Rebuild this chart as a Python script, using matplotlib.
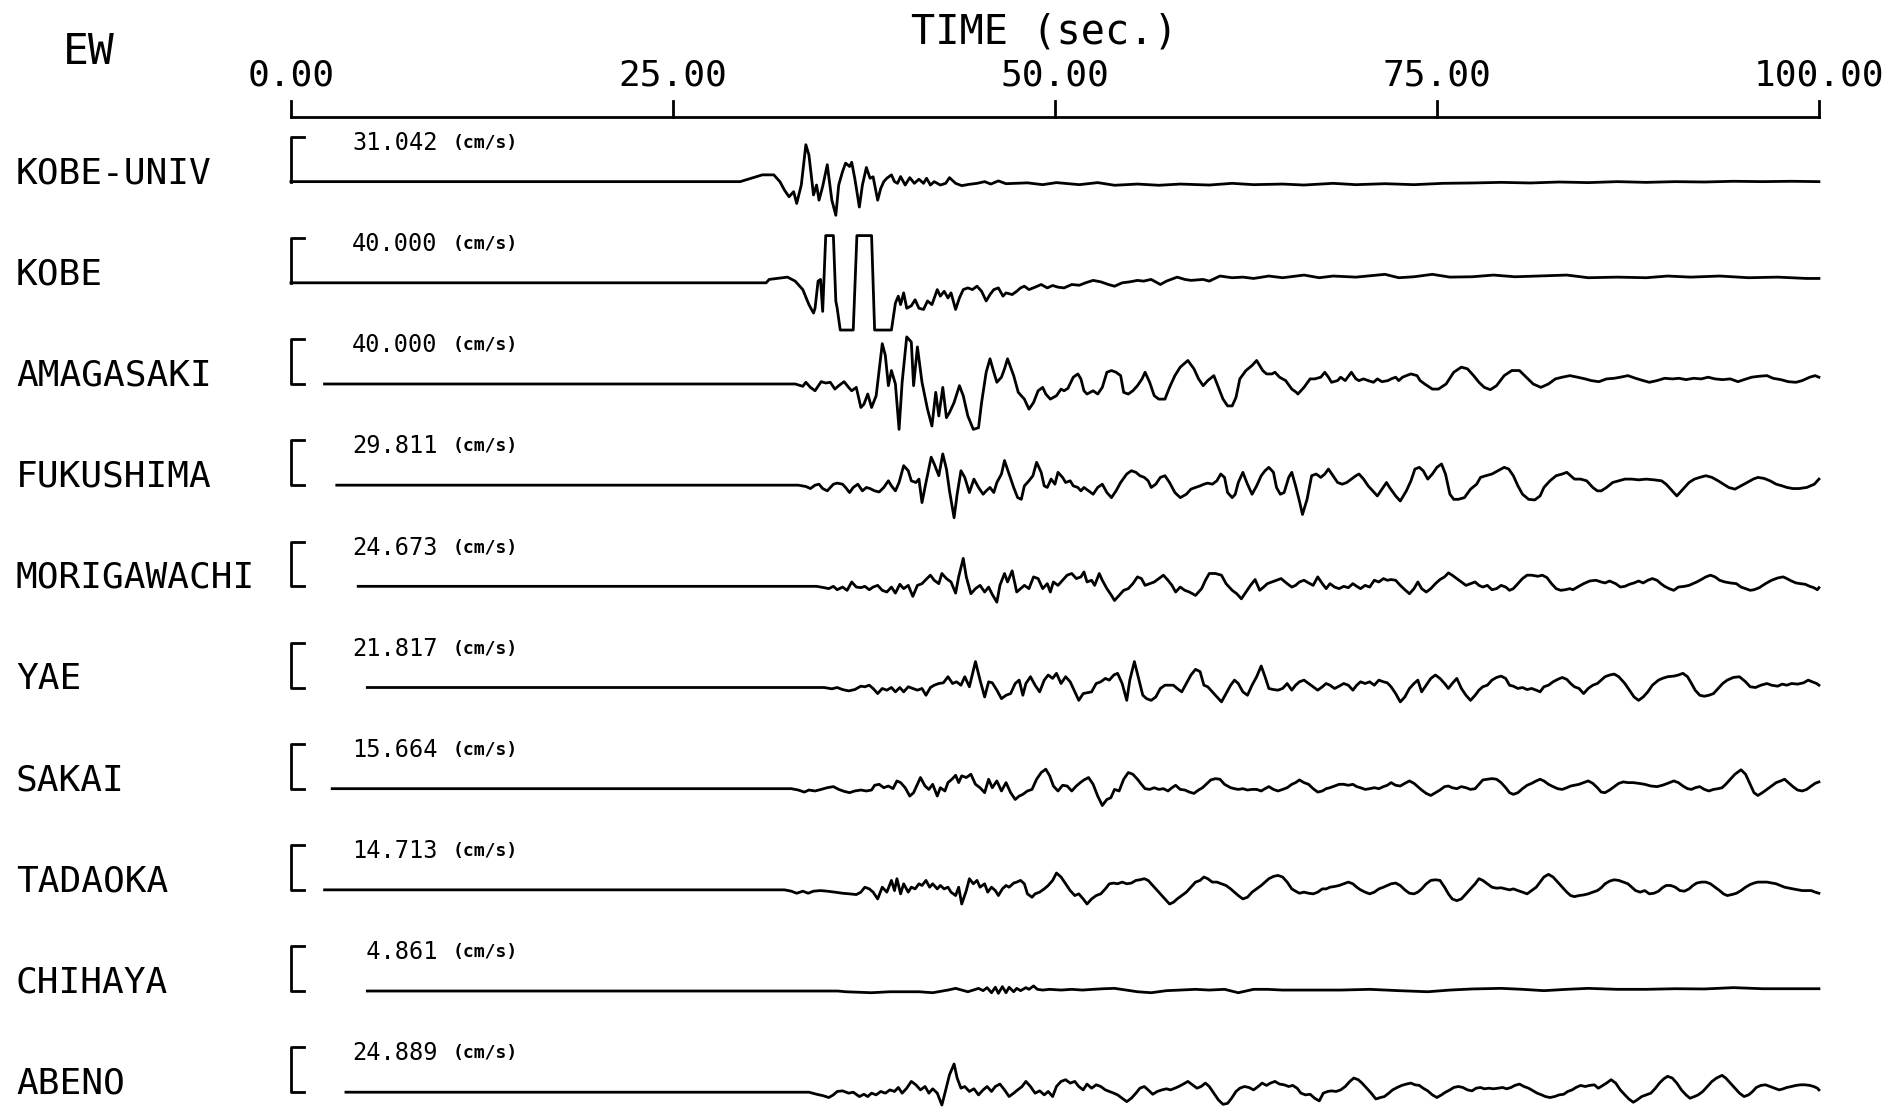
import matplotlib.pyplot as plt

# EW velocity records, 1995 Hyogo-ken Nanbu. time in sec, amplitude (relative units)
stations = ['KOBE-UNIV', 'KOBE', 'AMAGASAKI', 'FUKUSHIMA', 'MORIGAWACHI',
            'YAE', 'SAKAI', 'TADAOKA', 'CHIHAYA', 'ABENO']
peak_vel = [31.042, 40.000, 40.000, 29.811, 24.673, 21.817, 15.664, 14.713, 4.861, 24.889]
trace_start = [0.0, 0.0, 2.2, 3.0, 4.4, 5.0, 2.7, 2.2, 5.0, 3.6]
time_ticks = [0, 25, 50, 75, 100]

kobe_univ = [(29.4,0),(30.85,5.6),(31.6,5.6),(32.0,0),(32.3,-7),(32.6,-12.5),(32.9,-8.3),(33.1,-18),(33.4,-2.8),
    (33.7,30.5),(33.9,22),(34.2,-11),(34.4,-2.8),(34.56,-15.3),(34.8,-4),(35.1,14),(35.4,-15.3),(35.66,-27.8),
    (35.85,-2.8),(36.1,8.3),(36.3,15.3),(36.56,12.5),(36.7,16),(36.9,2.8),(37.2,-21),(37.4,-2.8),(37.66,11.7),
    (37.9,2.8),(38.1,4),(38.4,-15.3),(38.6,-5.6),(38.8,0),(39.0,2.8),(39.3,5.6),(39.5,0),(39.7,-1.4),(39.9,4.2),
    (40.2,-2.8),(40.5,3.3),(40.8,-1.4),(41.1,2),(41.4,-1.4),(41.6,2.8),(41.85,-2.8),(42.1,0),(42.5,-2.8),
    (42.85,-1.4),(43.1,3.3),(43.5,-1.4),(43.9,-3.3),(44.4,-2.2),(44.9,-1.4),(45.4,0),(45.8,-2),(46.3,0.6),
    (46.8,-1.7),(48.2,-1),(49.2,-2.5),(50.1,-0.8),(51.6,-2.5),(52.8,-0.8),(53.9,-3),(55.4,-2),(56.8,-3),(58.2,-2),
    (60.1,-2.8),(61.6,-1.4),(63.0,-2.5),(64.9,-2),(66.3,-2.8),(68.2,-1.4),(69.7,-2.5),(71.6,-1.7),(73.5,-2.5),
    (75.4,-1.4),(77.3,-1.1),(79.2,-0.6),(81.1,-1.1),(83.0,-0.3),(84.9,-0.8),(86.8,0),(88.7,-0.6),(90.6,0),
    (92.5,-0.3),(94.4,0.3),(96.3,0),(98.2,0.3),(100.0,0)]

kobe = [(31.1,0),(31.3,2.8),(32.5,4.7),(33.0,1.4),(33.5,-5.6),(33.9,-18),(34.2,-25),(34.3,-21),(34.5,1.4),
    (34.66,2.8),(34.8,-23.6),(35.0,39),(35.5,39),(35.66,-15),(35.75,-21),(35.95,-39),(36.8,-39),(37.04,39),
    (38.0,39),(38.2,-39),(39.3,-39),(39.56,-16.7),(39.75,-11),(39.9,-18),(40.1,-8.3),(40.3,-21),(40.6,-19),
    (40.85,-14),(41.1,-21),(41.4,-22),(41.66,-15),(41.95,-18),(42.3,-5.6),(42.5,-11),(42.75,-7),(43.0,-12.5),
    (43.2,-8.3),(43.5,-22),(43.75,-12.5),(44.0,-5.6),(44.3,-4.2),(44.6,-5.6),(44.9,-2.8),(45.2,-7),(45.5,-15),
    (45.75,-9.7),(46.0,-5.6),(46.3,-4.2),(46.6,-11),(46.8,-8.3),(47.2,-9.7),(47.5,-7),(47.75,-4.2),(48.0,-2.8),
    (48.3,-5.6),(48.7,-3.6),(49.1,-1.4),(49.5,-4.2),(49.85,-2.2),(50.2,-3.6),(50.6,-4.2),(51.1,-1.4),(51.6,-2),
    (52.0,0),(52.5,2),(53.0,0.8),(53.5,-1.4),(53.9,-2.8),(54.4,0),(54.9,0.8),(55.4,2),(55.8,1.4),(56.3,2.8),
    (56.9,-1.4),(57.3,1.4),(58.0,4.7),(58.5,2.8),(58.9,2),(59.7,2.8),(60.1,1.4),(60.8,5.6),(61.6,4.2),(62.3,4.7),
    (63.0,3.6),(64.0,5.6),(64.9,4.2),(65.8,5.6),(66.3,6.4),(67.3,4.2),(68.2,5.6),(69.7,4.7),(71.6,7),(72.5,4.2),
    (73.5,5),(74.7,7),(75.85,4.7),(77.3,5),(78.7,6.4),(80.1,5),(81.6,5.6),(83.5,6.4),(84.9,4.2),(86.8,4.7),
    (88.7,4.2),(90.1,5.6),(91.6,4.7),(93.5,5.6),(95.4,4.2),(97.3,4.7),(99.2,3.6),(100.0,3.6)]

amagasaki = [(33.0,0),(33.5,-1.9),(33.7,1.4),(34.0,-2.8),(34.3,-5.6),(34.7,1.9),(35.0,0.8),(35.3,1.4),(35.6,-4.2),
    (35.85,-1.4),(36.2,1.9),(36.5,-2.8),(36.7,-5.6),(37.0,-2.8),(37.3,-19.4),(37.5,-16.7),(37.75,-8.3),(38.0,-19.4),
    (38.3,-9.7),(38.7,33.3),(38.9,23.6),(39.1,-1.4),(39.3,11.1),(39.56,0),(39.8,-37.5),(40.0,1.4),(40.3,38.9),
    (40.6,34.7),(40.75,-1.4),(41.0,30.6),(41.3,1.4),(41.66,-20.8),(41.95,-34.7),(42.2,-6.9),(42.4,-26.4),
    (42.66,-2.8),(42.9,-27.8),(43.1,-23.6),(43.4,-15.3),(43.75,-1.4),(44.0,-9.7),(44.3,-26.4),(44.66,-37.5),
    (45.0,-36.1),(45.2,-15.3),(45.5,9.7),(45.75,20.8),(46.0,9.7),(46.2,1.4),(46.5,5.6),(46.7,12.5),(46.9,20.8),
    (47.3,6.9),(47.6,-6.9),(48.0,-12.5),(48.3,-20.8),(48.6,-15.3),(48.9,-5.6),(49.2,-2.8),(49.4,-8.3),(49.7,-12.5),
    (49.9,-11.1),(50.1,-9.7),(50.4,-4.2),(50.6,-5.6),(50.85,-3.6),(51.2,5.6),(51.5,8.3),(51.7,4.2),(51.9,-5.6),
    (52.1,-8.3),(52.3,-6.9),(52.5,-5.6),(52.8,-8.3),(53.1,-2.8),(53.4,9.7),(53.7,11.1),(54.0,9.7),(54.3,6.9),
    (54.5,-6.9),(54.8,-8.3),(55.1,-5.6),(55.4,-1.4),(55.7,4.2),(55.9,9.7),(56.2,1.4),(56.5,-9.7),(56.8,-12.5),
    (57.2,-12.5),(57.5,-2.8),(57.85,6.9),(58.2,13.9),(58.7,19.4),(59.1,12.5),(59.4,4.2),(59.7,-1.4),(60.0,2.8),
    (60.4,6.9),(60.7,-2.8),(61.0,-12.5),(61.3,-18.1),(61.6,-18.1),(61.85,-11.1),(62.1,4.2),(62.5,11.1),(62.9,15.3),
    (63.2,19.4),(63.6,11.1),(63.85,8.3),(64.2,8.3),(64.4,9.7),(64.7,5.6),(65.1,2.8),(65.5,-4.2),(65.8,-6.9),
    (65.9,-8.3),(66.3,-2.8),(66.7,4.2),(67.0,4.2),(67.4,5.6),(67.66,9.7),(67.9,5.6),(68.1,1.4),(68.5,2.8),
    (68.7,5.6),(69.0,2.8),(69.4,9.7),(69.7,4.2),(69.9,2.8),(70.2,4.2),(70.5,2.8),(70.85,1.4),(71.1,4.2),(71.4,1.9),
    (71.8,2.8),(72.0,4.2),(72.3,5.6),(72.5,2.8),(72.75,5.6),(73.0,6.9),(73.3,8.3),(73.7,6.9),(73.9,2.8),(74.2,0),
    (74.7,-4.2),(75.1,-4.2),(75.6,0),(76.1,9.7),(76.6,13.9),(77.0,12.5),(77.4,6.9),(77.75,1.4),(78.1,-2.8),
    (78.5,-4.7),(78.9,-1.4),(79.4,6.9),(79.9,11.1),(80.4,11.1),(80.85,5.6),(81.3,0),(81.8,-2.8),(82.3,0),
    (82.75,4.2),(83.2,5.6),(83.7,6.9),(84.2,5.6),(84.7,4.2),(85.1,2.8),(85.6,1.9),(86.1,4.2),(86.6,4.7),(87.0,5.6),
    (87.5,6.9),(88.0,4.7),(88.5,2.8),(88.9,1.4),(89.4,2.8),(89.9,4.7),(90.4,4.2),(90.85,4.7),(91.3,3.6),(91.8,4.7),
    (92.3,4.2),(92.75,5.6),(93.2,4.2),(93.7,3.6),(94.2,4.2),(94.7,1.9),(95.1,3.6),(95.6,5.6),(96.1,6.4),(96.6,6.9),
    (97.0,4.7),(97.5,3.6),(98.0,1.9),(98.5,1.4),(98.9,2.8),(99.4,5.6),(99.75,6.9),(100.0,5.6)]

fukushima = [(33.2,0),(33.7,-1.1),(34.0,-2.8),(34.3,0),(34.56,0.8),(34.8,-2.8),(35.1,-4.7),(35.5,0.8),(35.75,1.7),
    (36.1,0.8),(36.3,-1.9),(36.56,-6.1),(36.8,-1.9),(37.1,0.8),(37.4,-4.7),(37.66,-1.9),(37.9,-2.8),(38.2,-4.7),
    (38.5,-5.6),(38.8,-1.9),(39.1,3.6),(39.3,-0.6),(39.56,-4.7),(39.8,2.2),(40.1,16.1),(40.4,11.9),(40.6,3.6),
    (40.9,2.2),(41.1,5),(41.3,-14.4),(41.56,2.2),(41.9,23.1),(42.1,17.5),(42.4,7.8),(42.66,25.8),(42.9,13.3),
    (43.1,-4.7),(43.4,-26.9),(43.6,-7.5),(43.85,11.9),(44.1,6.4),(44.4,-6.1),(44.7,5),(45.0,-1.9),(45.3,-7.5),
    (45.5,-4.7),(45.75,-1.9),(46.0,-6.1),(46.2,2.2),(46.5,9.2),(46.7,20.3),(47.0,9.2),(47.3,-1.9),(47.56,-10.3),
    (47.8,-11.7),(48.0,-0.6),(48.3,3.6),(48.56,7.8),(48.8,18.9),(49.1,10.6),(49.3,-0.6),(49.5,-1.9),(49.75,5),
    (50.0,0.8),(50.2,10.6),(50.5,6.4),(50.7,2.2),(51.0,3.6),(51.2,-0.6),(51.5,-1.9),(51.7,-4.7),(51.9,-1.9),
    (52.2,-4.7),(52.5,-7.5),(52.8,-1.9),(53.1,0.8),(53.4,-6.1),(53.7,-10.3),(54.0,-4.7),(54.3,2.2),(54.7,9.2),
    (55.0,11.9),(55.3,10.6),(55.56,7.8),(55.85,6.4),(56.1,3.6),(56.3,-1.9),(56.6,0.8),(56.9,6.4),(57.2,7.8),
    (57.5,2.2),(57.85,-6.1),(58.2,-10.3),(58.6,-7.5),(58.9,-3.3),(59.2,-1.9),(59.5,-0.6),(59.75,0.8),(60.0,1.7),
    (60.3,0.8),(60.6,3.6),(60.85,9.2),(61.1,6.4),(61.3,-6.1),(61.6,-10.3),(61.8,-7.5),(62.0,2.2),(62.3,10.6),
    (62.6,0.8),(62.9,-7.5),(63.2,-0.6),(63.5,7.8),(63.75,11.9),(64.0,14.7),(64.3,10.6),(64.5,-1.9),(64.75,-7.5),
    (65.0,-6.1),(65.3,6.4),(65.5,10.6),(65.75,-0.6),(66.0,-13.1),(66.2,-24.2),(66.5,-11.7),(66.8,7.8),(67.1,9.2),
    (67.4,6.4),(67.66,9.2),(67.9,13.3),(68.2,7.8),(68.5,2.2),(68.8,0.8),(69.1,2.2),(69.4,5),(69.7,7.8),(69.9,9.2),
    (70.2,5),(70.5,-0.6),(70.8,-4.7),(71.1,-8.9),(71.4,-3.3),(71.7,2.2),(71.9,-1.9),(72.3,-8.9),(72.6,-13.1),
    (73.0,-4.7),(73.3,3.6),(73.56,13.3),(73.85,14.7),(74.1,11.9),(74.4,5),(74.7,9.2),(75.0,14.7),(75.3,17.5),
    (75.56,9.2),(75.85,-7.5),(76.1,-11.7),(76.4,-11.7),(76.8,-10.3),(77.2,-3.3),(77.6,0.8),(77.85,6.4),(78.2,7.8),
    (78.6,9.2),(79.0,11.9),(79.4,14.7),(79.7,13.3),(80.0,7.8),(80.3,-0.6),(80.6,-7.5),(81.0,-11.7),(81.4,-12.2),
    (81.75,-8.9),(82.0,-1.9),(82.4,3.6),(82.8,7.8),(83.2,9.2),(83.5,10.6),(83.75,7.8),(84.0,5),(84.4,5),(84.8,3.6),
    (85.2,-1.9),(85.5,-4.7),(85.75,-4.7),(86.1,-1.9),(86.5,2.2),(86.9,3.6),(87.3,5),(87.75,5),(88.2,4.4),(88.7,5),
    (89.2,4.4),(89.7,3.6),(90.0,0.8),(90.4,-4.7),(90.7,-8.9),(91.1,-3.3),(91.5,2.2),(91.85,5),(92.2,6.4),(92.6,7.8),
    (93.0,6.4),(93.4,3.6),(93.75,0.8),(94.1,-1.9),(94.5,-3.3),(94.9,-0.6),(95.3,2.2),(95.7,5),(96.0,6.4),(96.4,5.6),
    (96.8,3.6),(97.2,0.8),(97.6,-0.6),(97.9,-1.9),(98.3,-2.8),(98.7,-2.8),(99.2,-1.9),(99.7,0.8),(100.0,5)]

morigawachi = [(34.4,0),(34.9,-1.1),(35.2,-1.9),(35.5,0),(35.75,-2.8),(36.1,-0.6),(36.4,-3.3),(36.7,3.6),(37.0,-0.6),
    (37.3,-1.1),(37.56,0),(37.85,-2.8),(38.1,-0.6),(38.4,0.8),(38.7,-3.3),(39.0,-4.7),(39.3,-0.6),(39.56,-5.6),
    (39.85,1.7),(40.1,-1.9),(40.4,0.8),(40.7,-8.3),(41.0,0.8),(41.3,2.2),(41.56,5.6),(41.85,9.2),(42.1,5),(42.4,2.2),
    (42.6,10.6),(42.9,6.4),(43.2,3.6),(43.5,-5.6),(43.7,7.8),(44.0,23.1),(44.2,7.8),(44.5,-6.1),(44.8,-1.9),
    (45.1,0.8),(45.4,-4.7),(45.66,-0.6),(45.9,-6.7),(46.2,-13.1),(46.4,0.8),(46.7,10.6),(46.9,3.6),(47.2,12.8),
    (47.5,-4.7),(47.75,-1.9),(48.0,0.8),(48.3,-1.9),(48.6,7.8),(48.9,6.4),(49.2,-1.9),(49.5,2.2),(49.7,-4.7),
    (49.9,3.6),(50.2,0.8),(50.5,5),(50.8,9.2),(51.1,10.6),(51.4,6.4),(51.7,7.8),(51.9,11.9),(52.1,3.6),(52.4,5),
    (52.6,0.8),(52.9,10.6),(53.1,5),(53.4,-1.9),(53.7,-7.5),(53.9,-11.7),(54.2,-7.5),(54.5,-3.3),(54.8,-1.9),
    (55.1,2.2),(55.4,7.8),(55.66,6.4),(55.9,0.8),(56.2,2.2),(56.5,3.6),(56.8,6.4),(57.1,9.2),(57.4,5),(57.66,0.8),
    (57.9,-4.7),(58.2,-0.6),(58.5,-3.3),(58.8,-4.7),(59.2,-7.5),(59.6,-1.9),(59.85,5),(60.1,10.6),(60.5,10.6),
    (60.9,9.2),(61.2,2.2),(61.6,-3.3),(61.9,-6.1),(62.2,-10.3),(62.5,-4.7),(62.8,0.8),(63.1,5.6),(63.4,-3.3),
    (63.66,-0.6),(63.9,2.2),(64.2,3.6),(64.5,5),(64.8,6.4),(65.2,2.2),(65.5,-0.6),(65.75,0.8),(66.0,3.6),(66.3,5),
    (66.6,2.8),(66.9,0.8),(67.2,7.8),(67.5,2.2),(67.75,-1.9),(68.0,2.2),(68.3,-0.6),(68.6,-1.9),(68.9,0),(69.2,-1.1),
    (69.5,2.2),(69.75,0),(70.0,-1.9),(70.3,0.8),(70.6,-0.6),(70.9,5),(71.2,3.6),(71.5,6.4),(71.75,5),(72.0,5.6),
    (72.3,5),(72.6,0.8),(72.9,-2.8),(73.2,-6.1),(73.5,-1.9),(73.75,3.6),(74.0,-1.9),(74.3,-4.7),(74.6,-1.9),
    (74.9,2.2),(75.2,5.6),(75.5,7.8),(75.75,11.1),(76.0,9.2),(76.3,6.4),(76.6,3.6),(76.9,0.8),(77.2,2.2),(77.5,3.6),
    (77.75,0.8),(78.0,-0.6),(78.3,0.8),(78.6,-2.8),(78.9,-1.9),(79.2,0.8),(79.5,-0.6),(79.75,-3.3),(80.0,-1.9),
    (80.3,2.2),(80.6,6.4),(80.9,9.2),(81.2,9.2),(81.6,8.3),(81.9,9.2),(82.2,7.2),(82.5,2.2),(82.8,-1.9),(83.1,-3.3),
    (83.4,-2.8),(83.7,-1.9),(83.9,-2.8),(84.2,-0.6),(84.6,2.2),(85.0,4.4),(85.4,5),(85.75,3.6),(86.0,2.8),(86.3,4.4),
    (86.7,2.2),(87.0,-0.6),(87.3,0),(87.6,1.7),(87.9,2.8),(88.2,4.4),(88.5,2.8),(88.8,5),(89.1,6.4),(89.4,5),
    (89.66,2.2),(89.9,0),(90.2,-1.9),(90.5,-3.3),(90.8,-0.6),(91.2,0),(91.5,0.8),(91.75,2.2),(92.0,3.6),(92.3,5.6),
    (92.6,7.8),(92.9,9.2),(93.2,7.8),(93.5,5),(93.85,3.6),(94.2,2.8),(94.6,2.2),(94.9,-0.6),(95.2,-1.9),(95.5,-3.3),
    (95.75,-2.8),(96.1,-1.1),(96.5,2.2),(96.9,5),(97.3,6.9),(97.66,7.8),(97.9,6.4),(98.2,4.4),(98.5,2.8),(98.8,2.2),
    (99.1,1.7),(99.4,0),(99.66,-1.1),(99.9,-2.8),(100.0,-1.1)]

yae = [(34.9,0),(35.4,-1.1),(35.75,0),(36.1,-1.7),(36.5,-2.8),(36.9,-1.7),(37.3,1.1),(37.56,0.6),(37.85,1.9),
    (38.1,-0.8),(38.4,-5),(38.7,-0.8),(39.0,-2.2),(39.3,0),(39.56,-3.6),(39.85,0),(40.1,-3.6),(40.4,0.6),(40.7,-0.8),
    (41.0,-2.2),(41.3,-0.8),(41.56,-6.4),(41.85,0),(42.1,1.9),(42.4,3.3),(42.7,3.9),(43.0,8.9),(43.3,3.3),
    (43.56,4.7),(43.85,1.9),(44.1,8.9),(44.4,0.6),(44.8,21.4),(45.1,6.1),(45.4,-7.8),(45.66,4.7),(45.9,3.9),
    (46.2,-2.2),(46.5,-9.2),(46.8,-6.4),(47.1,-5),(47.4,3.3),(47.66,6.1),(47.9,-6.4),(48.1,3.3),(48.4,8.9),(48.7,1.9),
    (49.0,-3.6),(49.3,6.1),(49.56,10.3),(49.85,7.5),(50.1,11.7),(50.4,3.3),(50.7,8.9),(51.0,4.7),(51.3,-3.6),
    (51.56,-10.6),(51.85,-5),(52.1,-4.4),(52.4,-3.6),(52.7,3.3),(53.0,4.7),(53.3,7.5),(53.56,6.1),(53.85,10.3),
    (54.1,11.7),(54.4,3.3),(54.7,-10.6),(54.9,6.1),(55.2,21.4),(55.5,6.1),(55.75,-6.4),(56.0,-9.2),(56.3,-10.6),
    (56.6,-7.8),(56.9,-0.8),(57.2,1.9),(57.5,1.9),(57.75,1.9),(58.0,-0.8),(58.3,-3.6),(58.6,3.3),(58.9,10.3),
    (59.2,15),(59.5,13.1),(59.75,1.9),(60.0,0.6),(60.3,-3.6),(60.6,-7.8),(60.9,-11.9),(61.2,-5),(61.5,1.9),
    (61.75,6.1),(62.0,3.3),(62.3,-3.6),(62.6,-6.4),(62.9,1.9),(63.2,8.9),(63.5,17.8),(63.75,8.9),(64.0,-0.8),
    (64.3,-1.7),(64.6,-2.2),(64.9,-0.8),(65.2,3.3),(65.5,-2.2),(65.75,1.9),(66.0,4.7),(66.3,6.1),(66.6,3.3),
    (66.9,0.6),(67.2,-2.2),(67.5,0.6),(67.75,3.3),(68.0,1.9),(68.3,-0.8),(68.6,1.1),(68.9,3.3),(69.2,1.9),(69.5,-2.2),
    (69.75,1.9),(70.0,4.7),(70.3,3.3),(70.6,4.7),(70.9,1.9),(71.2,6.1),(71.5,4.7),(71.75,3.9),(72.0,0.6),(72.3,-5),
    (72.6,-11.9),(72.9,-7.8),(73.2,-0.8),(73.5,3.3),(73.75,6.1),(74.0,-3.6),(74.3,1.9),(74.6,7.5),(74.9,10.3),
    (75.2,7.5),(75.5,3.3),(75.75,-0.8),(76.0,3.3),(76.3,7.5),(76.6,-0.8),(76.9,-6.4),(77.2,-10.6),(77.5,-6.4),
    (77.75,-2.2),(78.0,0.6),(78.3,1.9),(78.6,6.1),(78.9,8.3),(79.2,9.4),(79.5,7.5),(79.75,1.9),(80.0,1.1),(80.3,-0.8),
    (80.6,0),(80.9,-1.7),(81.2,-0.8),(81.5,-2.2),(81.75,-3.6),(82.0,0.6),(82.3,1.9),(82.6,4.7),(82.9,6.7),(83.2,8.3),
    (83.5,6.7),(83.75,3.3),(84.0,0.6),(84.3,-0.8),(84.6,-5),(84.9,-0.8),(85.2,1.9),(85.5,3.3),(85.75,6.1),(86.0,8.9),
    (86.3,10.3),(86.6,11.1),(86.9,8.9),(87.3,3.3),(87.6,-2.2),(87.9,-7.8),(88.2,-10.6),(88.5,-7.8),(88.8,-3.6),
    (89.1,1.9),(89.5,6.1),(89.75,7.5),(90.1,8.9),(90.5,9.4),(90.8,10.3),(91.1,11.7),(91.4,8.9),(91.66,3.3),
    (91.9,-2.2),(92.2,-6.4),(92.5,-7.2),(92.8,-6.4),(93.1,-5),(93.4,-0.8),(93.7,3.3),(94.0,6.1),(94.4,8.3),
    (94.8,8.9),(95.2,4.7),(95.5,0.6),(95.85,0),(96.2,1.9),(96.6,3.3),(96.9,1.9),(97.3,1.1),(97.6,2.8),(97.9,1.9),
    (98.2,3.3),(98.6,2.8),(99.0,3.9),(99.3,6.1),(99.56,4.7),(99.85,3.3),(100.0,1.9)]

sakai = [(32.75,0),(33.2,-1.1),(33.6,-2.8),(33.9,-1.1),(34.3,-1.9),(34.7,-0.6),(35.1,0.8),(35.5,1.7),(35.85,-0.6),
    (36.2,-2.2),(36.56,-3.3),(36.9,-1.9),(37.3,-1.1),(37.66,-1.9),(38.0,-1.1),(38.2,2.8),(38.5,3.6),(38.8,0.8),
    (39.1,2.2),(39.4,0),(39.66,6.4),(39.9,5),(40.2,0.8),(40.5,-6.1),(40.75,-3.3),(41.0,3.6),(41.2,9.2),(41.5,2.2),
    (41.75,-0.6),(42.0,3.6),(42.3,-6.1),(42.5,0.8),(42.8,-1.9),(43.0,5),(43.3,8.3),(43.5,11.1),(43.7,5),(43.9,10.6),
    (44.2,9.2),(44.5,11.9),(44.8,3.6),(45.1,0.8),(45.4,-3.3),(45.66,7.8),(45.9,0.8),(46.2,6.4),(46.5,-1.9),(46.8,5),
    (47.1,-3.3),(47.4,-8.9),(47.66,-6.1),(47.9,-4.7),(48.2,-1.9),(48.5,-0.6),(48.8,7.8),(49.1,13.3),(49.4,16.1),
    (49.66,10.6),(49.9,2.2),(50.2,-1.9),(50.5,2.8),(50.8,2.2),(51.1,-1.9),(51.4,2.2),(51.66,5),(51.9,7.2),(52.2,9.2),
    (52.5,3.6),(52.8,-6.1),(53.1,-13.9),(53.4,-8.9),(53.66,-7.5),(53.9,-0.6),(54.2,-1.9),(54.5,7.8),(54.8,13.3),
    (55.1,11.9),(55.4,7.8),(55.66,3.6),(55.9,0),(56.2,-0.6),(56.5,0.8),(56.8,-0.6),(57.1,0),(57.4,-1.9),(57.66,0.8),
    (57.9,2.8),(58.2,-0.6),(58.5,-1.1),(58.8,-2.8),(59.1,-3.9),(59.4,-1.1),(59.66,0.8),(59.9,3.6),(60.2,7.2),
    (60.5,8.3),(60.8,7.8),(61.1,3.6),(61.5,0.8),(61.75,0),(62.0,-0.6),(62.3,0),(62.6,-1.1),(62.9,-0.6),(63.2,-0.6),
    (63.5,-1.9),(63.75,0),(64.0,1.7),(64.3,-0.6),(64.6,-1.9),(64.9,-0.6),(65.2,0.8),(65.5,3.6),(65.75,5),(66.0,7.2),
    (66.3,5),(66.6,3.6),(66.9,0),(67.2,-2.8),(67.5,-1.9),(67.75,0),(68.0,0.8),(68.3,2.2),(68.6,3.6),(68.9,3.6),
    (69.2,2.8),(69.5,3.6),(69.75,1.7),(70.0,0.8),(70.3,-0.6),(70.6,0),(70.9,0.8),(71.2,0),(71.5,1.7),(71.75,2.8),
    (72.0,5),(72.3,2.8),(72.6,2.2),(72.9,4.4),(73.2,6.4),(73.5,4.4),(73.75,1.7),(74.0,-1.1),(74.3,-3.9),(74.6,-5.6),
    (74.9,-3.3),(75.2,-1.1),(75.5,1.7),(75.75,2.2),(76.0,0.8),(76.3,0),(76.6,1.7),(76.9,0.8),(77.2,-0.6),(77.5,0),
    (77.75,3.6),(78.0,7.2),(78.3,7.8),(78.6,8.3),(78.9,7.8),(79.2,5),(79.5,0.8),(79.75,-3.3),(80.0,-4.7),(80.3,-3.3),
    (80.6,0),(80.9,2.8),(81.2,4.4),(81.5,6.4),(81.75,7.8),(82.0,6.4),(82.3,3.6),(82.6,1.7),(82.9,0),(83.2,-0.6),
    (83.5,0.8),(83.75,2.2),(84.0,2.8),(84.3,3.6),(84.6,5),(84.9,6.4),(85.2,4.4),(85.5,0.8),(85.75,-2.8),(86.0,-3.3),
    (86.3,-1.1),(86.6,1.7),(86.9,4.4),(87.2,5.6),(87.5,5),(87.85,5),(88.2,4.4),(88.6,3.6),(89.0,2.2),(89.4,1.7),
    (89.75,2.8),(90.1,4.4),(90.5,6.4),(90.8,5),(91.1,2.2),(91.4,0),(91.66,-0.6),(91.9,0.8),(92.2,1.7),(92.5,-0.6),
    (92.8,-1.9),(93.1,-0.6),(93.4,0),(93.66,0.8),(93.9,3.6),(94.2,7.8),(94.5,11.9),(94.9,15.6),(95.2,11.9),
    (95.5,3.6),(95.75,-3.3),(96.0,-5.6),(96.3,-3.3),(96.6,-0.6),(96.9,2.2),(97.2,5),(97.5,6.4),(97.75,7.8),(98.0,5),
    (98.3,1.7),(98.6,-1.1),(98.9,-1.9),(99.2,-0.6),(99.5,2.2),(99.75,4.4),(100.0,5.6)]

tadaoka = [(32.3,0),(32.75,-1.1),(33.1,-2.8),(33.5,-1.1),(33.85,-2.8),(34.2,-1.1),(34.66,-0.6),(35.1,-1.1),
    (35.6,-1.9),(36.1,-2.8),(36.56,-3.3),(37.0,-3.9),(37.3,-1.9),(37.56,2.2),(37.85,0.8),(38.1,-1.9),(38.4,-7.5),
    (38.7,2.2),(39.0,-1.9),(39.3,7.8),(39.5,-0.6),(39.66,9.2),(39.9,-3.3),(40.1,5),(40.4,-1.9),(40.6,2.2),(40.85,0.8),
    (41.1,5),(41.3,3.6),(41.56,7.8),(41.8,2.2),(42.0,5),(42.3,0.8),(42.5,3.6),(42.75,0.8),(43.0,2.2),(43.2,-1.9),
    (43.5,-4.7),(43.7,2.2),(43.9,-11.7),(44.2,-0.6),(44.4,9.2),(44.66,5),(44.9,7.8),(45.1,2.2),(45.4,5),(45.6,-1.9),
    (45.85,2.2),(46.1,-0.6),(46.3,-4.7),(46.56,0.8),(46.8,3.6),(47.0,2.2),(47.3,5.6),(47.5,6.4),(47.75,7.8),(48.0,5),
    (48.2,-3.3),(48.5,-6.1),(48.7,-3.3),(49.0,-1.9),(49.3,0.8),(49.56,3.6),(49.85,7.8),(50.1,13.9),(50.4,10.6),
    (50.7,5),(51.0,-0.6),(51.3,-4.7),(51.56,-3.3),(51.85,-7.5),(52.1,-11.7),(52.4,-7.5),(52.7,-4.7),(53.0,-3.3),
    (53.3,0.8),(53.56,5),(53.85,5.6),(54.1,5),(54.4,6.4),(54.7,5),(55.0,5.6),(55.3,7.8),(55.56,8.3),(55.85,9.2),
    (56.1,7.8),(56.4,3.6),(56.7,-0.6),(57.0,-4.7),(57.3,-8.9),(57.5,-11.7),(57.75,-10.3),(58.0,-7.5),(58.3,-4.7),
    (58.6,-1.9),(58.9,2.2),(59.2,6.4),(59.5,7.8),(59.75,10.6),(60.0,9.2),(60.3,6.4),(60.6,6.4),(60.9,5),(61.2,3.6),
    (61.5,0.8),(61.75,-1.9),(62.0,-4.7),(62.3,-7.5),(62.6,-6.1),(62.9,-1.9),(63.2,0.8),(63.5,3.6),(63.75,6.4),
    (64.0,9.2),(64.3,11.1),(64.6,11.9),(64.9,10.6),(65.2,6.4),(65.5,0.8),(65.75,-1.1),(66.0,-2.8),(66.3,-1.9),
    (66.6,-2.8),(66.9,-3.3),(67.2,-1.9),(67.5,0.8),(67.75,0.8),(68.0,2.2),(68.3,2.8),(68.6,3.6),(68.9,5),(69.2,6.4),
    (69.5,5),(69.75,2.2),(70.0,0),(70.3,-1.9),(70.6,-3.3),(70.9,-1.9),(71.2,0.8),(71.5,2.2),(71.75,3.6),(72.0,5),
    (72.3,5.6),(72.6,3.6),(72.9,0),(73.2,-2.8),(73.5,-3.3),(73.75,-1.9),(74.0,0.8),(74.3,5),(74.6,7.8),(74.9,8.3),
    (75.2,7.8),(75.5,2.2),(75.75,-3.3),(76.0,-7.5),(76.3,-8.9),(76.6,-7.5),(76.9,-3.3),(77.2,0.8),(77.5,5),
    (77.75,9.2),(78.0,7.8),(78.3,5),(78.6,2.2),(78.9,1.4),(79.2,1.7),(79.5,0.8),(79.75,0),(80.0,0.8),(80.3,-0.6),
    (80.6,-1.9),(80.9,-3.3),(81.2,-0.6),(81.5,2.2),(81.75,6.4),(82.0,10.6),(82.3,12.8),(82.6,10.6),(82.9,6.4),
    (83.2,2.2),(83.5,-1.9),(83.75,-4.7),(84.0,-5.6),(84.3,-4.7),(84.6,-4.2),(84.9,-3.3),(85.2,-1.9),(85.5,-0.6),
    (85.75,1.7),(86.0,5),(86.3,7.2),(86.6,8.3),(86.9,7.8),(87.2,6.4),(87.5,5),(87.75,2.2),(88.0,-0.6),(88.3,-1.9),
    (88.6,-0.6),(88.9,-3.3),(89.2,-2.8),(89.5,-1.1),(89.75,1.7),(90.0,3.6),(90.3,3.6),(90.6,2.2),(90.9,-0.6),
    (91.2,-1.1),(91.5,0.8),(91.75,3.6),(92.0,5.6),(92.3,6.4),(92.6,6.4),(92.9,5),(93.2,2.2),(93.5,-0.6),(93.75,-3.3),
    (94.0,-4.7),(94.3,-3.9),(94.6,-2.8),(94.9,-0.6),(95.2,2.2),(95.5,4.4),(95.75,5.6),(96.0,6.4),(96.6,6.4),
    (97.2,5),(97.75,2.2),(98.3,0.8),(98.9,-0.6),(99.5,-0.6),(99.75,-1.9),(100.0,-2.8)]

chihaya = [(35.8,0),(36.3,-0.6),(38.0,-1.4),(39.2,-0.6),(41.1,-0.6),(42.0,-1.4),(43.0,0.8),(43.5,2.2),(43.9,0.8),
    (44.3,-0.6),(44.66,0.8),(45.0,2.2),(45.3,0.3),(45.56,2.8),(45.85,-1.4),(46.1,3.1),(46.3,-1.9),(46.56,3.6),
    (46.8,-1.4),(47.0,3.1),(47.3,-0.6),(47.5,2.2),(47.75,0.3),(48.1,2.8),(48.3,1.4),(48.6,4.2),(48.85,1.4),(49.2,0.8),
    (49.66,1.4),(50.4,0.8),(51.1,1.4),(51.8,0.8),(52.5,1.4),(53.2,1.9),(53.9,2.2),(54.66,0.8),(55.4,-0.6),(56.3,-1.4),
    (57.3,0.3),(58.2,0.8),(59.2,1.4),(60.1,0.8),(61.1,1.4),(62.0,-1.4),(63.0,1.4),(63.9,1.4),(64.9,0.8),(66.8,0.8),
    (68.7,0.8),(70.6,1.4),(72.5,0.3),(74.4,-0.6),(75.85,0.8),(77.3,1.7),(79.2,2.2),(80.6,1.4),(82.0,0.3),(83.5,1.4),
    (84.9,2.2),(86.8,1.4),(88.7,1.4),(90.6,1.9),(92.5,1.7),(94.4,2.8),(96.3,1.9),(98.2,1.9),(100.0,1.9)]

abeno = [(33.9,0),(34.4,-1.7),(34.8,-2.8),(35.2,-4.4),(35.5,-2.2),(35.75,0.6),(36.1,1.1),(36.5,-0.8),(36.8,0),
    (37.2,-3.6),(37.5,-1.7),(37.75,-3.6),(38.0,-0.8),(38.3,-2.2),(38.6,0.6),(38.9,-0.8),(39.2,1.9),(39.5,0.6),
    (39.75,3.9),(40.0,-0.8),(40.3,3.3),(40.6,8.9),(40.9,6.1),(41.2,1.9),(41.5,4.7),(41.75,-0.8),(42.0,2.8),
    (42.3,-0.8),(42.6,-10.6),(42.8,-0.8),(43.1,14.4),(43.4,23.3),(43.6,11.7),(43.85,3.3),(44.1,4.7),(44.4,0.6),
    (44.7,2.8),(45.0,-2.2),(45.3,1.9),(45.56,4.7),(45.85,0.6),(46.1,4.7),(46.4,6.7),(46.7,1.9),(47.0,-3.6),(47.3,-0.8),
    (47.56,1.9),(47.85,4.7),(48.1,8.9),(48.4,4.7),(48.7,-0.8),(49.0,1.1),(49.3,-2.2),(49.56,0.6),(49.85,-3.6),
    (50.1,4.7),(50.4,8.9),(50.7,10.3),(51.0,7.5),(51.3,8.9),(51.56,4.7),(51.85,1.9),(52.1,6.7),(52.4,3.3),(52.7,6.1),
    (53.0,4.7),(53.3,1.9),(53.56,0.6),(53.85,-0.8),(54.1,-2.2),(54.4,-5),(54.7,-7.8),(55.0,-5),(55.3,-0.8),(55.56,3.3),
    (55.85,4.7),(56.1,1.9),(56.4,-1.7),(56.7,0.6),(57.0,1.9),(57.3,2.8),(57.56,1.9),(57.85,3.3),(58.1,4.7),(58.4,6.7),
    (58.7,8.9),(59.0,6.1),(59.3,3.3),(59.56,4.7),(59.85,7.5),(60.1,4.7),(60.4,-0.8),(60.7,-6.4),(61.0,-10),(61.3,-9.2),
    (61.56,-5),(61.85,0.6),(62.1,3.3),(62.4,4.7),(62.7,3.9),(63.0,1.9),(63.3,4.7),(63.56,7.5),(63.85,5.6),(64.1,7.5),
    (64.4,8.9),(64.7,6.7),(65.0,6.1),(65.3,4.7),(65.56,5.6),(65.85,3.3),(66.1,-0.8),(66.4,-2.2),(66.7,-1.7),(67.0,-5),
    (67.3,-7.2),(67.56,-0.8),(67.85,0.6),(68.1,1.1),(68.4,0.6),(68.7,1.9),(69.0,4.7),(69.3,8.9),(69.56,11.7),
    (69.85,10.3),(70.1,7.5),(70.4,3.3),(70.7,-0.8),(71.0,-5.6),(71.3,-4.4),(71.56,-3.6),(71.85,-0.8),(72.1,1.9),
    (72.4,3.9),(72.7,5.6),(73.0,6.7),(73.3,7.5),(73.56,6.1),(73.85,5.6),(74.1,3.3),(74.4,1.1),(74.7,-2.2),(75.0,-4.4),
    (75.3,-2.2),(75.56,0),(75.85,1.9),(76.1,3.9),(76.4,4.7),(76.7,3.9),(77.0,1.9),(77.3,1.1),(77.56,3.3),(77.85,3.9),
    (78.1,2.8),(78.4,3.3),(78.7,2.8),(79.0,3.3),(79.3,3.9),(79.56,2.8),(79.85,3.9),(80.1,5.6),(80.4,6.7),(80.7,4.7),
    (81.0,3.3),(81.3,1.1),(81.56,-0.8),(81.85,-2.2),(82.1,-3.6),(82.4,-4.4),(82.7,-3.6),(83.0,-2.2),(83.3,-1.7),
    (83.56,0.6),(83.85,1.9),(84.1,3.9),(84.4,5.6),(84.7,4.7),(85.0,5.6),(85.3,6.1),(85.56,3.3),(85.85,5.6),(86.1,7.5),
    (86.4,10.3),(86.7,7.5),(87.0,1.9),(87.3,-2.2),(87.56,-5.6),(87.85,-8.3),(88.1,-6.4),(88.4,-3.6),(88.7,-2.2),
    (89.0,-0.8),(89.3,3.3),(89.56,7.5),(89.85,11.1),(90.1,13.1),(90.4,11.7),(90.7,7.5),(91.0,1.9),(91.3,-2.2),
    (91.56,-5),(91.85,-3.6),(92.1,-2.2),(92.4,0.6),(92.7,4.7),(93.0,8.9),(93.3,11.7),(93.66,13.9),(93.9,11.7),
    (94.2,7.5),(94.5,3.3),(94.8,-0.8),(95.1,-3.6),(95.4,-2.2),(95.66,0.6),(95.9,3.9),(96.2,5.6),(96.5,6.1),(96.8,4.7),
    (97.1,3.3),(97.4,1.9),(97.66,2.8),(97.9,3.9),(98.2,4.7),(98.5,5.6),(98.8,6.1),(99.1,6.1),(99.4,5.6),(99.66,4.7),
    (99.9,3.3),(100.0,1.9)]

records = [kobe_univ, kobe, amagasaki, fukushima, morigawachi, yae, sakai, tadaoka, chihaya, abeno]

mono = 'DejaVu Sans Mono'
fig = plt.figure(figsize=(18.99, 11.08), dpi=100)
ax = fig.add_axes([0, 0, 1, 1])
# x in seconds, y in sheet rows (0 at top)
ax.set_xlim(-19.04, 105.24)
ax.set_ylim(915, 0)
ax.axis('off')

lw = 2.0
row0, row_step = 150, 83.55
brk_h, brk_w = 37, 0.85

# time scale on top
ax.plot([0, 100], [97, 97], color='black', lw=lw)
for tk in time_ticks:
    ax.plot([tk, tk], [83, 97], color='black', lw=lw)
    ax.text(tk, 62, '%.2f' % tk, ha='center', va='center', family=mono, fontsize=26)
ax.text(49.3, 27, 'TIME (sec.)', ha='center', va='center', family=mono, fontsize=29)
ax.text(-13.2, 43, 'EW', ha='center', va='center', family=mono, fontsize=31)

for i, name in enumerate(stations):
    base = row0 + i * row_step
    t = [trace_start[i]] + [p[0] for p in records[i]]
    a = [0.0] + [p[1] for p in records[i]]
    ax.plot(t, [base - v for v in a], color='black', lw=lw, solid_joinstyle='round')
    # amplitude bracket
    if trace_start[i] == 0:
        ax.plot([brk_w, 0, 0], [base - brk_h, base - brk_h, base], color='black', lw=lw)
    else:
        ax.plot([brk_w, 0, 0, brk_w], [base - brk_h, base - brk_h, base, base], color='black', lw=lw)
    ax.text(4.0, base - 32, '%6.3f' % peak_vel[i], ha='left', va='center', family=mono, fontsize=17)
    ax.text(10.6, base - 32, '(cm/s)', ha='left', va='center', family=mono, fontsize=13, fontweight='bold')
    ax.text(-18.0, base - 7, name, ha='left', va='center', family=mono, fontsize=26)

fig.savefig('out.png', dpi=100, facecolor='white')
